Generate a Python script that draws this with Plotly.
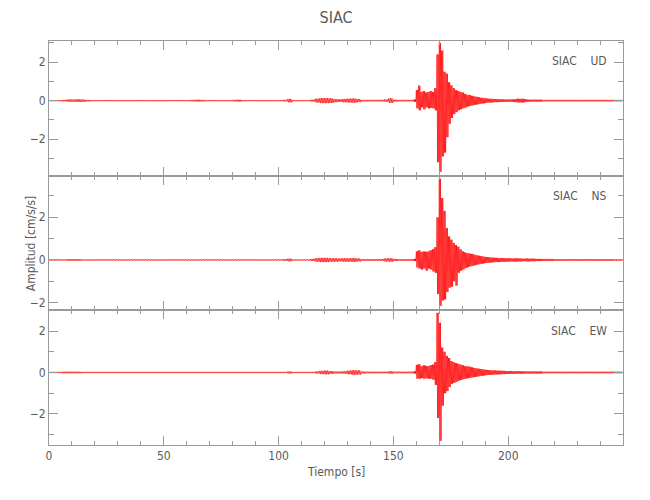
import plotly.graph_objects as go
from plotly.subplots import make_subplots

# ---------------- data ----------------
STATION = "SIAC"
COMPONENTS = ["UD", "NS", "EW"]

# quiet part: symmetric noise envelope, 2-s bins starting at t = 0 s
QUIET_T0, QUIET_DT = 0.0, 2.0
UD_QUIET = [0.03, 0.03, 0.03, 0.04, 0.06, 0.06, 0.07, 0.06, 0.04, 0.03,
            0.03, 0.03, 0.03, 0.03, 0.03, 0.03, 0.03, 0.03, 0.03, 0.03,
            0.03, 0.03, 0.03, 0.03, 0.03, 0.03, 0.03, 0.03, 0.03, 0.03,
            0.03, 0.04, 0.05, 0.04, 0.03, 0.03, 0.03, 0.03, 0.03, 0.03,
            0.04, 0.05, 0.03, 0.03, 0.03, 0.03, 0.03, 0.03, 0.03, 0.03,
            0.03, 0.04, 0.09, 0.03, 0.03, 0.03, 0.03, 0.05, 0.10, 0.13,
            0.13, 0.12, 0.08, 0.07, 0.09, 0.10, 0.11, 0.08, 0.04, 0.04,
            0.04, 0.04, 0.04, 0.06, 0.12, 0.05, 0.04, 0.04, 0.04, 0.04]
NS_QUIET = [0.03, 0.03, 0.03, 0.03, 0.04, 0.04, 0.04, 0.03, 0.03, 0.03,
            0.03, 0.03, 0.03, 0.03, 0.03, 0.03, 0.03, 0.03, 0.03, 0.03,
            0.03, 0.03, 0.03, 0.03, 0.03, 0.03, 0.03, 0.03, 0.03, 0.03,
            0.03, 0.03, 0.03, 0.03, 0.03, 0.03, 0.03, 0.03, 0.03, 0.03,
            0.03, 0.03, 0.03, 0.03, 0.03, 0.03, 0.03, 0.03, 0.03, 0.03,
            0.03, 0.04, 0.06, 0.03, 0.03, 0.03, 0.03, 0.05, 0.08, 0.10,
            0.10, 0.08, 0.08, 0.07, 0.08, 0.08, 0.09, 0.07, 0.04, 0.04,
            0.04, 0.04, 0.04, 0.07, 0.08, 0.05, 0.04, 0.04, 0.04, 0.04]
EW_QUIET = [0.03, 0.03, 0.03, 0.04, 0.04, 0.04, 0.04, 0.03, 0.03, 0.03,
            0.03, 0.03, 0.03, 0.03, 0.03, 0.03, 0.03, 0.03, 0.03, 0.03,
            0.03, 0.03, 0.03, 0.03, 0.03, 0.03, 0.03, 0.03, 0.03, 0.03,
            0.03, 0.03, 0.03, 0.03, 0.03, 0.03, 0.03, 0.03, 0.03, 0.03,
            0.03, 0.03, 0.03, 0.03, 0.03, 0.03, 0.03, 0.03, 0.03, 0.03,
            0.03, 0.03, 0.05, 0.03, 0.03, 0.03, 0.03, 0.03, 0.05, 0.08,
            0.09, 0.07, 0.05, 0.05, 0.06, 0.09, 0.11, 0.10, 0.05, 0.04,
            0.04, 0.04, 0.04, 0.04, 0.06, 0.04, 0.04, 0.04, 0.04, 0.04]

# event: upper / lower envelope, 1-s bins starting at t = 159 s
EVENT_T0, EVENT_DT = 159.0, 1.0
UD_UP = [0.06, 0.55, 0.78, 0.45, 0.50, 0.42, 0.45, 0.50, 0.45, 0.65,
         2.40, 3.00, 2.60, 1.50, 1.40, 0.95, 0.80, 0.65, 0.55, 0.50,
         0.45, 0.42, 0.35, 0.30, 0.30, 0.25, 0.22, 0.20, 0.18, 0.15,
         0.14, 0.12, 0.10, 0.10, 0.09, 0.08, 0.08, 0.07, 0.07, 0.06,
         0.06, 0.06, 0.06, 0.07, 0.08, 0.10, 0.09, 0.10, 0.08, 0.06,
         0.05, 0.05, 0.05, 0.05, 0.05, 0.05]
UD_LO = [-0.06, -0.40, -0.50, -0.35, -0.45, -0.35, -0.40, -0.38, -0.40, -0.50,
         -3.20, -3.70, -2.90, -2.70, -1.90, -1.20, -0.90, -0.70, -0.60, -0.50,
         -0.45, -0.40, -0.35, -0.30, -0.28, -0.25, -0.22, -0.20, -0.18, -0.15,
         -0.14, -0.12, -0.10, -0.10, -0.09, -0.08, -0.08, -0.07, -0.07, -0.06,
         -0.06, -0.06, -0.06, -0.07, -0.08, -0.10, -0.09, -0.10, -0.08, -0.06,
         -0.05, -0.05, -0.05, -0.05, -0.05, -0.05]
NS_UP = [0.05, 0.40, 0.45, 0.38, 0.40, 0.38, 0.40, 0.45, 0.50, 0.60,
         2.00, 3.80, 2.90, 2.30, 1.50, 1.10, 0.95, 0.80, 0.70, 0.62,
         0.50, 0.40, 0.35, 0.32, 0.30, 0.28, 0.25, 0.22, 0.20, 0.18,
         0.16, 0.14, 0.13, 0.12, 0.11, 0.10, 0.10, 0.09, 0.09, 0.08,
         0.08, 0.08, 0.07, 0.07, 0.08, 0.07, 0.07, 0.06, 0.06, 0.07,
         0.06, 0.06, 0.06, 0.05, 0.05, 0.05]
NS_LO = [-0.05, -0.35, -0.40, -0.45, -0.40, -0.50, -0.40, -0.45, -0.54, -0.60,
         -1.60, -2.15, -1.90, -1.85, -1.50, -1.30, -1.25, -1.00, -1.20, -0.60,
         -0.50, -0.45, -0.38, -0.34, -0.30, -0.28, -0.25, -0.22, -0.20, -0.18,
         -0.16, -0.14, -0.13, -0.12, -0.11, -0.10, -0.10, -0.09, -0.09, -0.08,
         -0.08, -0.08, -0.07, -0.07, -0.08, -0.07, -0.07, -0.06, -0.06, -0.07,
         -0.06, -0.06, -0.06, -0.05, -0.05, -0.05]
EW_UP = [0.05, 0.37, 0.40, 0.30, 0.35, 0.32, 0.30, 0.35, 0.38, 0.50,
         2.88, 2.40, 1.20, 1.00, 0.80, 0.70, 0.55, 0.50, 0.45, 0.42,
         0.38, 0.35, 0.30, 0.30, 0.28, 0.25, 0.22, 0.20, 0.18, 0.16,
         0.15, 0.13, 0.12, 0.11, 0.10, 0.10, 0.09, 0.09, 0.08, 0.08,
         0.07, 0.07, 0.07, 0.06, 0.06, 0.06, 0.06, 0.06, 0.05, 0.05,
         0.05, 0.05, 0.05, 0.05, 0.05, 0.05]
EW_LO = [-0.05, -0.30, -0.30, -0.27, -0.30, -0.28, -0.30, -0.30, -0.35, -0.60,
         -2.20, -3.30, -1.60, -1.00, -0.90, -0.70, -0.55, -0.50, -0.45, -0.40,
         -0.36, -0.33, -0.30, -0.28, -0.26, -0.24, -0.22, -0.20, -0.18, -0.16,
         -0.15, -0.13, -0.12, -0.11, -0.10, -0.10, -0.09, -0.09, -0.08, -0.08,
         -0.07, -0.07, -0.07, -0.06, -0.06, -0.06, -0.06, -0.06, -0.05, -0.05,
         -0.05, -0.05, -0.05, -0.05, -0.05, -0.05]

# tail: symmetric noise envelope, 2.5-s bins starting at t = 215 s
TAIL_T0, TAIL_DT = 215.0, 2.5
UD_TAIL = [0.04, 0.04, 0.04, 0.04, 0.04, 0.04, 0.04, 0.04, 0.04, 0.04, 0.04, 0.04, 0.04, 0.04]
NS_TAIL = [0.05, 0.05, 0.04, 0.04, 0.04, 0.04, 0.04, 0.04, 0.04, 0.04, 0.04, 0.04, 0.04, 0.04]
EW_TAIL = [0.04, 0.04, 0.04, 0.04, 0.04, 0.04, 0.04, 0.04, 0.04, 0.04, 0.04, 0.04, 0.04, 0.04]

Y_RANGES = [[-3.9, 3.1], [-2.36, 3.95], [-3.5, 3.0]]
X_TICKS = [0, 50, 100, 150, 200]
Y_TICKS = [-2, 0, 2]

CHANNELS = [
    (UD_QUIET, UD_UP, UD_LO, UD_TAIL),
    (NS_QUIET, NS_UP, NS_LO, NS_TAIL),
    (EW_QUIET, EW_UP, EW_LO, EW_TAIL),
]


def add_bins(xs, ys, t0, dt, up, lo, strokes):
    """Draw each envelope bin as a dense up/down scribble between its read limits."""
    for i, (u, l) in enumerate(zip(up, lo)):
        t = t0 + i * dt
        for k in range(strokes):
            xs.append(t + k * dt / strokes)
            ys.append(u if k % 2 == 0 else l)


def envelope_trace(quiet, up, lo, tail):
    xs, ys = [], []
    add_bins(xs, ys, QUIET_T0, QUIET_DT, quiet, [-a for a in quiet], 6)
    add_bins(xs, ys, EVENT_T0, EVENT_DT, up, lo, 4)
    add_bins(xs, ys, TAIL_T0, TAIL_DT, tail, [-a for a in tail], 8)
    return xs, ys


FONT = "DejaVu Sans Condensed, DejaVu Sans, sans-serif"
TXT = "#5a5a5a"
AX = "#9a9a9a"

fig = make_subplots(rows=3, cols=1, shared_xaxes=True, vertical_spacing=0)

for r, (ch, comp) in enumerate(zip(CHANNELS, COMPONENTS), start=1):
    xs, ys = envelope_trace(*ch)
    fig.add_trace(go.Scatter(x=xs, y=ys, mode="lines",
                             line=dict(color="#ff0000", width=0.7),
                             showlegend=False, hoverinfo="skip"), row=r, col=1)
    fig.add_annotation(text=STATION + "\u00a0\u00a0\u00a0\u00a0" + comp,
                       xref="x domain" if r == 1 else f"x{r} domain",
                       yref="y domain" if r == 1 else f"y{r} domain",
                       x=0.976, y=0.85, xanchor="right", yanchor="middle",
                       showarrow=False,
                       font=dict(family=FONT, size=12, color=TXT))

domains = [[2 / 3, 1.0], [1 / 3, 2 / 3], [0.0, 1 / 3]]
for r in range(1, 4):
    fig.update_xaxes(range=[0, 250], tickvals=X_TICKS, showticklabels=(r == 3),
                     ticks="inside", ticklen=9, tickcolor=AX, tickwidth=1,
                     minor=dict(ticks="inside", dtick=10, tick0=0, ticklen=4,
                                tickcolor=AX, showgrid=False),
                     showline=True, linecolor=AX, linewidth=1, mirror="ticks",
                     showgrid=False, zeroline=False,
                     tickfont=dict(family=FONT, size=12, color=TXT),
                     row=r, col=1)
    fig.update_yaxes(range=Y_RANGES[r - 1], tickvals=Y_TICKS, domain=domains[r - 1],
                     ticks="inside", ticklen=9, tickcolor=AX, tickwidth=1,
                     minor=dict(ticks="inside", dtick=1, tick0=0, ticklen=5,
                                tickcolor=AX, showgrid=False),
                     showline=True, linecolor=AX, linewidth=1, mirror="ticks",
                     showgrid=False, zeroline=False,
                     tickfont=dict(family=FONT, size=12, color=TXT),
                     row=r, col=1)

fig.add_annotation(text="Amplitud [cm/s/s]", xref="paper", yref="paper",
                   x=-0.031, y=0.5, textangle=-90, showarrow=False,
                   xanchor="center", yanchor="middle",
                   font=dict(family=FONT, size=12, color=TXT))
fig.add_annotation(text="Tiempo [s]", xref="paper", yref="paper",
                   x=0.5, y=-0.066, showarrow=False,
                   xanchor="center", yanchor="middle",
                   font=dict(family=FONT, size=12, color=TXT))

# the page adds an 8-px body margin, so the figure box is offset by (8, 8)
fig.update_layout(
    width=650, height=500,
    margin=dict(l=41, r=35, t=33, b=63),
    paper_bgcolor="white", plot_bgcolor="white",
    title=dict(text=STATION, x=0.5, xref="paper", y=0.981, yref="container",
               xanchor="center", yanchor="middle",
               font=dict(family=FONT, size=16, color=TXT)),
)

fig.write_html("out.html")
